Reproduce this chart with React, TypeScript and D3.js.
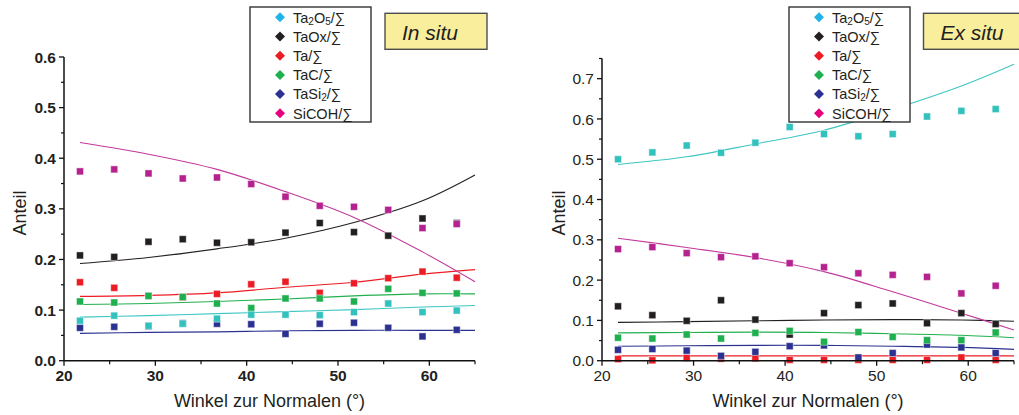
import React from "react";
import * as d3 from "d3";

// ---- data ----
const angles = [21.75, 25.5, 29.25, 33, 36.75, 40.5, 44.25, 48, 51.75, 55.5, 59.25, 63];
const fitAngles = [21.75, 29.25, 36.75, 44.25, 51.75, 59.25, 65];

const seriesNames = ["Ta2O5", "TaOx", "Ta", "TaC", "TaSi2", "SiCOH"];

// In situ
const inSituTa2O5 = [0.079, 0.089, 0.069, 0.073, 0.083, 0.091, 0.091, 0.090, 0.096, 0.113, 0.096, 0.099];
const inSituTaOx = [0.208, 0.205, 0.235, 0.240, 0.233, 0.234, 0.253, 0.272, 0.254, 0.247, 0.281, 0.272];
const inSituTa = [0.155, 0.144, 0.128, 0.125, 0.132, 0.151, 0.156, 0.134, 0.153, 0.163, 0.176, 0.164];
const inSituTaC = [0.117, 0.115, 0.128, 0.126, 0.113, 0.104, 0.123, 0.123, 0.117, 0.142, 0.134, 0.133];
const inSituTaSi2 = [0.065, 0.067, 0.068, 0.074, 0.073, 0.072, 0.053, 0.073, 0.075, 0.065, 0.048, 0.061];
const inSituSiCOH = [0.374, 0.378, 0.370, 0.360, 0.362, 0.349, 0.324, 0.306, 0.304, 0.298, 0.262, 0.270];

const fitInTa2O5 = [0.086, 0.089, 0.093, 0.097, 0.101, 0.106, 0.109];
const fitInTaOx = [0.192, 0.204, 0.221, 0.242, 0.273, 0.316, 0.367];
const fitInTa = [0.127, 0.129, 0.134, 0.145, 0.155, 0.171, 0.180];
const fitInTaC = [0.111, 0.113, 0.117, 0.122, 0.128, 0.132, 0.132];
const fitInTaSi2 = [0.054, 0.056, 0.057, 0.059, 0.060, 0.060, 0.060];
const fitInSiCOH = [0.431, 0.408, 0.378, 0.334, 0.283, 0.215, 0.156];

// Ex situ
const exSituTa2O5 = [0.500, 0.517, 0.534, 0.516, 0.541, 0.580, 0.5625, 0.557, 0.5625, 0.606, 0.620, 0.6245];
const exSituTaOx = [0.135, 0.113, 0.099, 0.150, 0.102, 0.065, 0.118, 0.138, 0.142, 0.093, 0.118, 0.091];
const exSituTa = [0.004, 0.001, 0.007, 0.005, 0.006, 0.002, 0.002, 0.002, 0.002, 0.002, 0.008, 0.002];
const exSituTaC = [0.057, 0.055, 0.065, 0.055, 0.069, 0.074, 0.047, 0.071, 0.059, 0.051, 0.051, 0.070];
const exSituTaSi2 = [0.027, 0.029, 0.025, 0.012, 0.022, 0.036, 0.038, 0.008, 0.019, 0.040, 0.033, 0.019];
const exSituSiCOH = [0.277, 0.282, 0.267, 0.257, 0.259, 0.242, 0.232, 0.217, 0.213, 0.208, 0.167, 0.186];

const fitExTa2O5 = [0.487, 0.506, 0.538, 0.572, 0.624, 0.682, 0.736];
const fitExTaOx = [0.095, 0.097, 0.099, 0.101, 0.102, 0.101, 0.098];
const fitExTa = [0.012, 0.012, 0.012, 0.012, 0.012, 0.012, 0.012];
const fitExTaC = [0.069, 0.070, 0.071, 0.070, 0.067, 0.063, 0.057];
const fitExTaSi2 = [0.036, 0.037, 0.038, 0.038, 0.036, 0.033, 0.028];
const fitExSiCOH = [0.304, 0.281, 0.256, 0.221, 0.171, 0.118, 0.076];

const xTicks = [20, 30, 40, 50, 60];
const xMinorTicks = [25, 35, 45, 55, 65];
const yTicksIn = [0.0, 0.1, 0.2, 0.3, 0.4, 0.5, 0.6];
const yMinorIn = [0.05, 0.15, 0.25, 0.35, 0.45, 0.55];
const yTicksEx = [0.0, 0.1, 0.2, 0.3, 0.4, 0.5, 0.6, 0.7];
const yMinorEx = [0.05, 0.15, 0.25, 0.35, 0.45, 0.55, 0.65, 0.75];

// ---- styles ----
const pointColor: Record<string, string> = {
  Ta2O5: "#33c1bd",
  TaOx: "#231f20",
  Ta: "#ec1c24",
  TaC: "#1eaf4e",
  TaSi2: "#2b3190",
  SiCOH: "#b5218f",
};
const lineColor: Record<string, string> = {
  Ta2O5: "#3ec6c3",
  TaOx: "#231f20",
  Ta: "#ec1c24",
  TaC: "#22b04f",
  TaSi2: "#2b3190",
  SiCOH: "#c23a9c",
};
const legendColor: Record<string, string> = {
  Ta2O5: "#22b3e6",
  TaOx: "#231f20",
  Ta: "#ec1c24",
  TaC: "#1eaf4e",
  TaSi2: "#2b3190",
  SiCOH: "#e6007e",
};
const drawOrder = ["Ta", "TaSi2", "TaOx", "TaC", "Ta2O5", "SiCOH"];
const FONT = "'Liberation Sans', Arial, sans-serif";

type PanelProps = {
  x0: number;
  x1: number;
  yMax: number;
  yTop: number;
  yTicks: number[];
  yMinor: number[];
  points: Record<string, number[]>;
  fits: Record<string, number[]>;
  legendX: number;
  tagX: number;
  tagW: number;
  tagText: string;
  tagTextX: number;
  anteilX: number;
  labelWeight: string;
};

function LegendLabel({ name }: { name: string }) {
  const sub = { fontSize: 10, baselineShift: "-2px" } as any;
  if (name === "Ta2O5")
    return (
      <>
        Ta<tspan style={sub}>2</tspan>O<tspan style={sub}>5</tspan>/∑
      </>
    );
  if (name === "TaSi2")
    return (
      <>
        TaSi<tspan style={sub}>2</tspan>/∑
      </>
    );
  return <>{name}/∑</>;
}

function Panel(p: PanelProps) {
  const y0 = 360.7;
  const x = d3.scaleLinear().domain([20, 65]).range([p.x0, p.x1]);
  const y = d3.scaleLinear().domain([0, p.yMax]).range([y0, p.yTop]);
  const line = d3
    .line<[number, number]>()
    .x((d) => x(d[0]))
    .y((d) => y(d[1]))
    .curve(d3.curveCatmullRom);
  const fmt = d3.format(".1f");
  const ms = 7;

  return (
    <g fontFamily={FONT}>
      {/* fit lines */}
      {drawOrder.map((n) => (
        <path
          key={"f" + n}
          d={line(fitAngles.map((a, i) => [a, p.fits[n][i]]) as [number, number][]) || ""}
          fill="none"
          stroke={lineColor[n]}
          strokeWidth={1.1}
        />
      ))}
      {/* points */}
      {drawOrder.map((n) => (
        <g key={"p" + n}>
          {angles.map((a, i) => (
            <rect
              key={i}
              x={x(a) - ms / 2}
              y={y(p.points[n][i]) - ms / 2}
              width={ms}
              height={ms}
              fill={pointColor[n]}
              stroke="#ffffff"
              strokeOpacity={0.45}
              strokeWidth={1}
            />
          ))}
        </g>
      ))}
      {/* axes */}
      <line x1={p.x0} x2={p.x0} y1={y0} y2={p.yTop} stroke="#111" strokeWidth={1.5} />
      <line x1={p.x0} x2={p.x1} y1={y0} y2={y0} stroke="#111" strokeWidth={1.5} />
      {p.yTicks.map((t) => (
        <g key={"yt" + t}>
          <line x1={p.x0 - 5} x2={p.x0} y1={y(t)} y2={y(t)} stroke="#111" strokeWidth={1.3} />
          <text
            x={p.x0 - 8}
            y={y(t)}
            dy="0.36em"
            textAnchor="end"
            fontSize={15.5}
            fontWeight={p.labelWeight}
            fill="#231f20"
          >
            {fmt(t)}
          </text>
        </g>
      ))}
      {p.yMinor.map((t) => (
        <line key={"ym" + t} x1={p.x0 - 3} x2={p.x0} y1={y(t)} y2={y(t)} stroke="#111" strokeWidth={1.2} />
      ))}
      {xTicks.map((t) => (
        <g key={"xt" + t}>
          <line x1={x(t)} x2={x(t)} y1={y0} y2={y0 + 5} stroke="#111" strokeWidth={1.3} />
          <text
            x={x(t)}
            y={380.5}
            textAnchor="middle"
            fontSize={15.5}
            fontWeight={p.labelWeight}
            fill="#231f20"
          >
            {t}
          </text>
        </g>
      ))}
      {xMinorTicks.map((t) => (
        <line key={"xm" + t} x1={x(t)} x2={x(t)} y1={y0} y2={y0 + 3.5} stroke="#111" strokeWidth={1.2} />
      ))}
      <text
        x={(p.x0 + p.x1) / 2}
        y={406.5}
        textAnchor="middle"
        fontSize={18}
        fill="#231f20"
      >
        Winkel zur Normalen (°)
      </text>
      <text
        transform={`translate(${p.anteilX},213) rotate(-90)`}
        textAnchor="middle"
        fontSize={18}
        fill="#231f20"
      >
        Anteil
      </text>
      {/* legend */}
      <rect x={p.legendX} y={7} width={121} height={115} fill="#fff" stroke="#333" strokeWidth={1.4} />
      {seriesNames.map((n, i) => {
        const cy = 17.3 + i * 19.2;
        const cx = p.legendX + 30;
        return (
          <g key={"l" + n}>
            <path
              d={`M${cx},${cy - 5}L${cx + 5},${cy}L${cx},${cy + 5}L${cx - 5},${cy}Z`}
              fill={legendColor[n]}
            />
            <text x={p.legendX + 43} y={cy} dy="0.36em" fontSize={14.5} fill="#231f20">
              <LegendLabel name={n} />
            </text>
          </g>
        );
      })}
      {/* tag */}
      <rect x={p.tagX} y={13.3} width={p.tagW} height={36} fill="#f8ee9b" stroke="#4d4d4d" strokeWidth={1.4} />
      <text x={p.tagTextX} y={40} fontSize={21} fontStyle="italic" fill="#231f20">
        {p.tagText}
      </text>
    </g>
  );
}

export default function App() {
  return (
    <svg
      width={1019}
      height={415}
      style={{ position: "absolute", left: 0, top: 0, background: "#fff" }}
    >
      <rect x={0} y={0} width={1019} height={415} fill="#fff" />
      <Panel
        x0={64}
        x1={475}
        yMax={0.6}
        yTop={57}
        yTicks={yTicksIn}
        yMinor={yMinorIn}
        points={{
          Ta2O5: inSituTa2O5,
          TaOx: inSituTaOx,
          Ta: inSituTa,
          TaC: inSituTaC,
          TaSi2: inSituTaSi2,
          SiCOH: inSituSiCOH,
        }}
        fits={{
          Ta2O5: fitInTa2O5,
          TaOx: fitInTaOx,
          Ta: fitInTa,
          TaC: fitInTaC,
          TaSi2: fitInTaSi2,
          SiCOH: fitInSiCOH,
        }}
        legendX={250}
        tagX={385}
        tagW={102}
        tagText="In situ"
        tagTextX={402}
        anteilX={26}
        labelWeight="bold"
      />
      <Panel
        x0={602}
        x1={1014}
        yMax={0.75}
        yTop={58.5}
        yTicks={yTicksEx}
        yMinor={yMinorEx}
        points={{
          Ta2O5: exSituTa2O5,
          TaOx: exSituTaOx,
          Ta: exSituTa,
          TaC: exSituTaC,
          TaSi2: exSituTaSi2,
          SiCOH: exSituSiCOH,
        }}
        fits={{
          Ta2O5: fitExTa2O5,
          TaOx: fitExTaOx,
          Ta: fitExTa,
          TaC: fitExTaC,
          TaSi2: fitExTaSi2,
          SiCOH: fitExSiCOH,
        }}
        legendX={789}
        tagX={923.5}
        tagW={110}
        tagText="Ex situ"
        tagTextX={940.5}
        anteilX={565}
        labelWeight="normal"
      />
    </svg>
  );
}
